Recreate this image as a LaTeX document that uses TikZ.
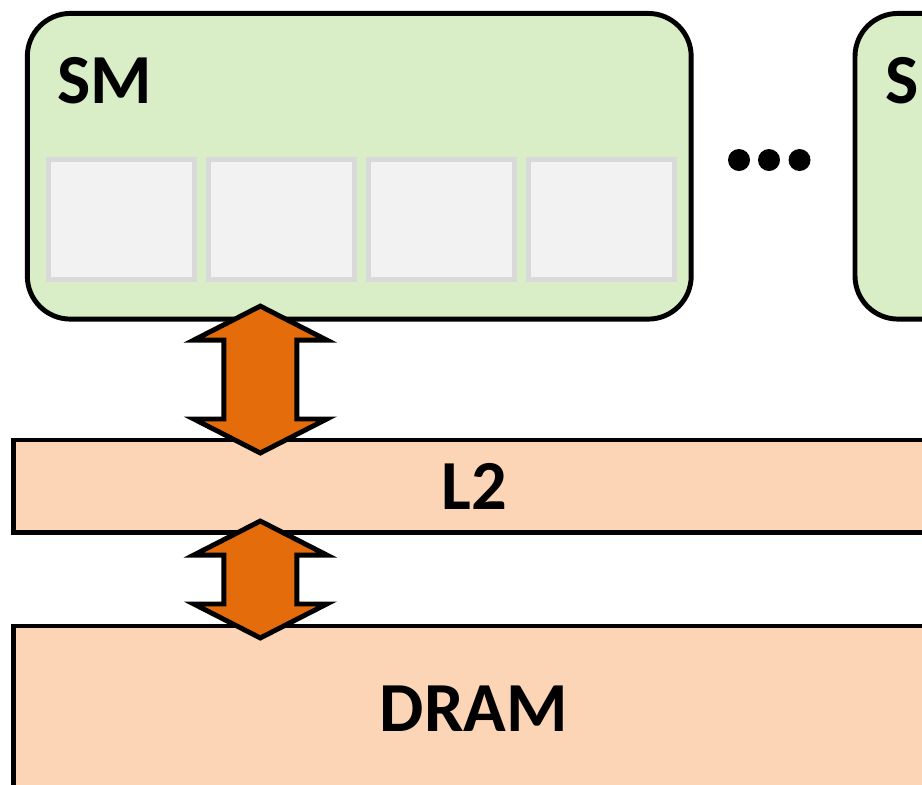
\documentclass[tikz,border=0pt]{standalone}
\usepackage{fontspec}
\setmainfont{Carlito}
\usetikzlibrary{calc}
\definecolor{smgreen}{RGB}{217,238,199}
\definecolor{cachepeach}{RGB}{251,213,181}
\definecolor{busorange}{RGB}{228,108,10}
\definecolor{coregray}{RGB}{242,242,242}
\definecolor{coreedge}{RGB}{217,217,217}
\def\biglabel{\bfseries\fontsize{20}{24}\selectfont}
\tikzset{
	smbox/.style={draw=black, fill=smgreen, line width=1.4pt, rounded corners=0.43cm, minimum width=6.635cm, minimum height=3.055cm, outer sep=0pt},
	core/.style={draw=coreedge, fill=coregray, line width=1.4pt, minimum width=1.46cm, minimum height=1.2cm, outer sep=0pt},
	membar/.style={draw=black, fill=cachepeach, line width=1.4pt, minimum width=9.2cm, outer sep=0pt, font=\biglabel},
	bus/.style={draw=black, fill=busorange, line width=1.4pt, line join=miter},
}
\def\updown(#1)(#2){\draw[bus] (#1) -- ($(#1)+(66.5,34)$) -- ($(#1)+(36.5,34)$) -- ($(#2)+(36.5,-34)$) -- ($(#2)+(66.5,-34)$) -- (#2) -- ($(#2)+(-66.5,-34)$) -- ($(#2)+(-36.5,-34)$) -- ($(#1)+(-36.5,34)$) -- ($(#1)+(-66.5,34)$) -- cycle;}

\begin{document}
\begin{tikzpicture}[x=0.01cm, y=-0.01cm]
		%%%%% START %%%%%
		\useasboundingbox (0,0) rectangle (922,784);
		\clip (0,0) rectangle (922,784);
		
		\node[smbox] (sm1) at (359.25,166.25) {};
		\node[font=\biglabel, anchor=base west, inner sep=0pt] (sm1lbl) at (57,103) {SM};
		\foreach \i in {0,...,3}
			\node[core] (c\i) at (121.5+160*\i,219.5) {};
		
		\node[smbox, anchor=west] (sm2) at (855,166.25) {};
		\node[font=\biglabel, anchor=base west, inner sep=0pt] (sm2lbl) at (885,103) {SM};
		
		\foreach \x in {739,769,799.5}
			\fill (\x,160) circle (0.11cm);
		
		\node[membar, minimum height=0.92cm] (l2) at (474,486) {L2};
		\node[membar, minimum height=1.65cm] (dram) at (474,708.5) {DRAM};
		
		\coordinate (a1t) at ($(sm1.south west)+(233,-13)$);
		\coordinate (a1b) at ($(a1t |- l2.north)+(0,13)$);
		\coordinate (a2t) at ($(a1t |- l2.south)+(0,-11)$);
		\coordinate (a2b) at ($(a1t |- dram.north)+(0,12)$);
		\updown(a1t)(a1b)
		\updown(a2t)(a2b)
		%%%%% END %%%%%
\end{tikzpicture}
\end{document}
